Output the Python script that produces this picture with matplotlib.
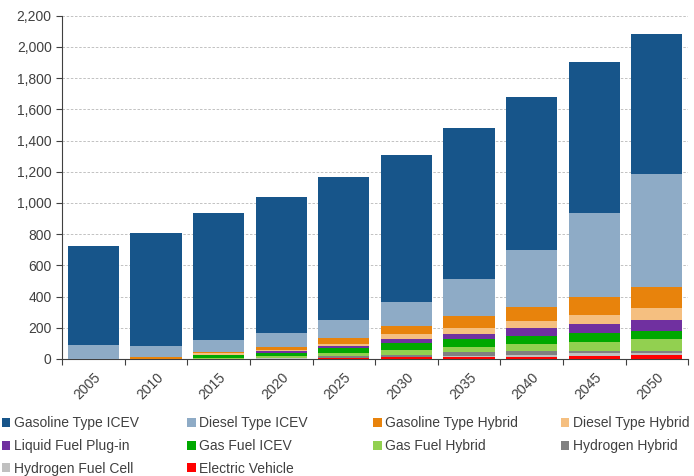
import matplotlib

matplotlib.use("Agg")
import matplotlib.pyplot as plt
import numpy as np
from matplotlib.patches import Patch
from matplotlib.ticker import FuncFormatter, MultipleLocator

plt.rcParams["font.family"] = ["Liberation Sans", "DejaVu Sans"]

years = ["2005", "2010", "2015", "2020", "2025", "2030", "2035", "2040", "2045", "2050"]

# series, bottom of the stack first
electric_vehicle = [0, 0, 0, 2, 3, 12, 11, 15, 21, 26]
hydrogen_fuel_cell = [0, 0, 0, 1, 3, 3, 10, 11, 16, 14]
hydrogen_hybrid = [0, 0, 0, 4, 15, 9, 22, 25, 14, 11]
gas_fuel_hybrid = [0, 0, 4, 10, 19, 32, 36, 43, 58, 75]
gas_fuel_icev = [0, 0, 18, 22, 32, 47, 47, 56, 56, 54]
liquid_plugin = [0, 0, 2, 9, 10, 23, 34, 47, 58, 70]
diesel_hybrid = [0, 2, 11, 11, 15, 32, 37, 46, 59, 79]
gasoline_hybrid = [0, 8, 12, 20, 38, 53, 79, 92, 118, 135]
diesel_icev = [88, 72, 77, 85, 112, 156, 235, 364, 536, 723]
gasoline_icev = [634, 728, 811, 876, 918, 938, 969, 981, 969, 898]

series = [
    ("Electric Vehicle", electric_vehicle, "#ff0000"),
    ("Hydrogen Fuel Cell", hydrogen_fuel_cell, "#c0c0c0"),
    ("Hydrogen Hybrid", hydrogen_hybrid, "#808080"),
    ("Gas Fuel Hybrid", gas_fuel_hybrid, "#92d050"),
    ("Gas Fuel ICEV", gas_fuel_icev, "#00a800"),
    ("Liquid Fuel Plug-in", liquid_plugin, "#7030a0"),
    ("Diesel Type Hybrid", diesel_hybrid, "#f5bf80"),
    ("Gasoline Type Hybrid", gasoline_hybrid, "#e8830c"),
    ("Diesel Type ICEV", diesel_icev, "#8eabc6"),
    ("Gasoline Type ICEV", gasoline_icev, "#17558a"),
]

legend_cols = [
    ["Gasoline Type ICEV", "Liquid Fuel Plug-in", "Hydrogen Fuel Cell"],
    ["Diesel Type ICEV", "Gas Fuel ICEV", "Electric Vehicle"],
    ["Gasoline Type Hybrid", "Gas Fuel Hybrid"],
    ["Diesel Type Hybrid", "Hydrogen Hybrid"],
]

TXT = "#404040"

fig = plt.figure(figsize=(6.94, 4.76), dpi=100, facecolor="white")
ax = fig.add_axes([0.0895, 0.246, 0.902, 0.721])

x = np.arange(len(years))
bottom = np.zeros(len(years))
colors = {}
for name, vals, col in series:
    ax.bar(x, vals, bottom=bottom, width=0.82, color=col, edgecolor="none", zorder=3)
    bottom += np.array(vals)
    colors[name] = col

ax.set_xlim(-0.5, len(years) - 0.5)
ax.set_ylim(0, 2200)
ax.yaxis.set_major_locator(MultipleLocator(200))
ax.yaxis.set_major_formatter(FuncFormatter(lambda v, _: f"{v:,.0f}"))
ax.grid(axis="y", color="#b8b8b8", linestyle=(0, (3, 2)), linewidth=0.6, zorder=0)

ax.set_xticks(x)
ax.set_xticklabels(years, rotation=45, ha="right", rotation_mode="anchor")
ax.set_xticks(np.arange(-0.5, len(years)), minor=True)
ax.tick_params(axis="x", which="major", length=0, pad=8, labelsize=10, labelcolor=TXT)
ax.tick_params(axis="x", which="minor", length=4, color="#404040", width=0.8)
ax.tick_params(axis="y", length=4, color="#404040", width=0.8, labelsize=10, labelcolor=TXT)

for side in ("top", "right"):
    ax.spines[side].set_visible(False)
for side in ("left", "bottom"):
    ax.spines[side].set_color("#404040")
    ax.spines[side].set_linewidth(0.8)

col_x = [0.003, 0.27, 0.538, 0.808]
for cx, names in zip(col_x, legend_cols):
    handles = [Patch(facecolor=colors[n], edgecolor="none") for n in names]
    leg = fig.legend(handles, names, loc="upper left", bbox_to_anchor=(cx, 0.125),
                     frameon=False, fontsize=10, handlelength=0.6, handleheight=0.6,
                     handletextpad=0.25, labelspacing=0.62, borderaxespad=0,
                     borderpad=0)
    for t in leg.get_texts():
        t.set_color(TXT)

fig.savefig("out.png", dpi=100, facecolor="white")
